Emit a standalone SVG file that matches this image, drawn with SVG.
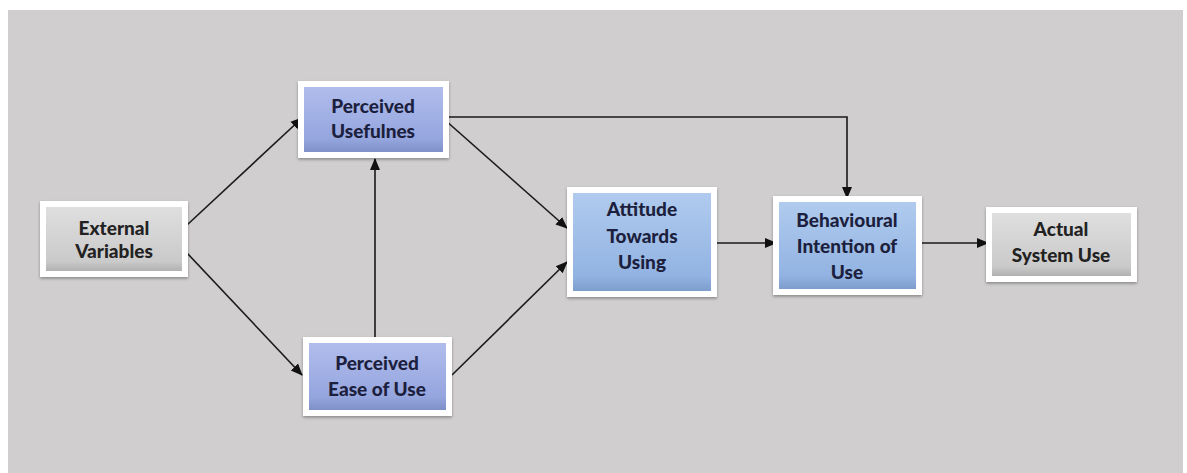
<svg xmlns="http://www.w3.org/2000/svg" width="1187" height="473" viewBox="0 0 1187 473">
<style>
.frame{fill:#ffffff;filter:url(#sh)}
.t{font-family:Lato,"Open Sans","Liberation Sans",sans-serif;font-weight:900;font-size:19px;text-anchor:middle}
.tn{fill:#1c1f3d}
.tg{fill:#222222}
.c{stroke:#1a1a1a;stroke-width:1.6;fill:none;marker-end:url(#ah)}
</style>
<defs>
<linearGradient id="gp" x1="0" y1="0" x2="0" y2="1"><stop offset="0" stop-color="#b0bdec"/><stop offset="0.8" stop-color="#95a5de"/><stop offset="1" stop-color="#7f8fc8"/></linearGradient>
<linearGradient id="gb" x1="0" y1="0" x2="0" y2="1"><stop offset="0" stop-color="#b0cbee"/><stop offset="0.85" stop-color="#92b3e2"/><stop offset="1" stop-color="#7d9dcc"/></linearGradient>
<linearGradient id="gg" x1="0" y1="0" x2="0" y2="1"><stop offset="0" stop-color="#e0dfdf"/><stop offset="0.85" stop-color="#cbcaca"/><stop offset="1" stop-color="#b2b1b1"/></linearGradient>
<filter id="sh" x="-10%" y="-10%" width="120%" height="130%"><feDropShadow dx="0" dy="1.5" stdDeviation="1.5" flood-color="#000" flood-opacity="0.35"/></filter>
<marker id="ah" markerWidth="12" markerHeight="12" refX="11" refY="6" orient="auto" markerUnits="userSpaceOnUse"><path d="M0,1 L12,6 L0,11 Z" fill="#111"/></marker>
</defs>
<rect x="0" y="0" width="1187" height="473" fill="#ffffff"/>
<rect x="8" y="10" width="1175" height="463" fill="#d0cece"/>
<g id="connectors">
<line class="c" x1="187" y1="225" x2="302" y2="118"/>
<line class="c" x1="187" y1="253" x2="302" y2="375"/>
<line class="c" x1="375" y1="337" x2="375" y2="159"/>
<line class="c" x1="445" y1="120" x2="567" y2="228"/>
<polyline class="c" points="445,117 847,117 847,198"/>
<line class="c" x1="452" y1="375" x2="567" y2="262"/>
<line class="c" x1="717" y1="243" x2="776" y2="243"/>
<line class="c" x1="922" y1="243" x2="988" y2="243"/>
</g>
<g id="external-variables">
<rect class="frame" x="40" y="201" width="148" height="76"/>
<rect x="46" y="207" width="136" height="64" fill="url(#gg)"/>
<text class="t tg" x="114" y="235">External</text>
<text class="t tg" x="114" y="258">Variables</text>
</g>
<g id="perceived-usefulness">
<rect class="frame" x="298" y="81" width="151" height="77"/>
<rect x="304" y="87" width="139" height="65" fill="url(#gp)"/>
<text class="t tn" x="373" y="113">Perceived</text>
<text class="t tn" x="373" y="138">Usefulnes</text>
</g>
<g id="perceived-ease-of-use">
<rect class="frame" x="303" y="337" width="149" height="79"/>
<rect x="309" y="343" width="137" height="67" fill="url(#gp)"/>
<text class="t tn" x="377" y="370">Perceived</text>
<text class="t tn" x="377" y="396">Ease of Use</text>
</g>
<g id="attitude-towards-using">
<rect class="frame" x="567" y="187" width="150" height="110"/>
<rect x="573" y="193" width="138" height="98" fill="url(#gb)"/>
<text class="t tn" x="642" y="216">Attitude</text>
<text class="t tn" x="642" y="243">Towards</text>
<text class="t tn" x="642" y="269">Using</text>
</g>
<g id="behavioural-intention-of-use">
<rect class="frame" x="773" y="196" width="149" height="99"/>
<rect x="779" y="202" width="137" height="87" fill="url(#gb)"/>
<text class="t tn" x="847" y="227">Behavioural</text>
<text class="t tn" x="847" y="253">Intention of</text>
<text class="t tn" x="847" y="279">Use</text>
</g>
<g id="actual-system-use">
<rect class="frame" x="986" y="207" width="151" height="75"/>
<rect x="992" y="213" width="139" height="63" fill="url(#gg)"/>
<text class="t tg" x="1061" y="236">Actual</text>
<text class="t tg" x="1061" y="262">System Use</text>
</g>
</svg>
